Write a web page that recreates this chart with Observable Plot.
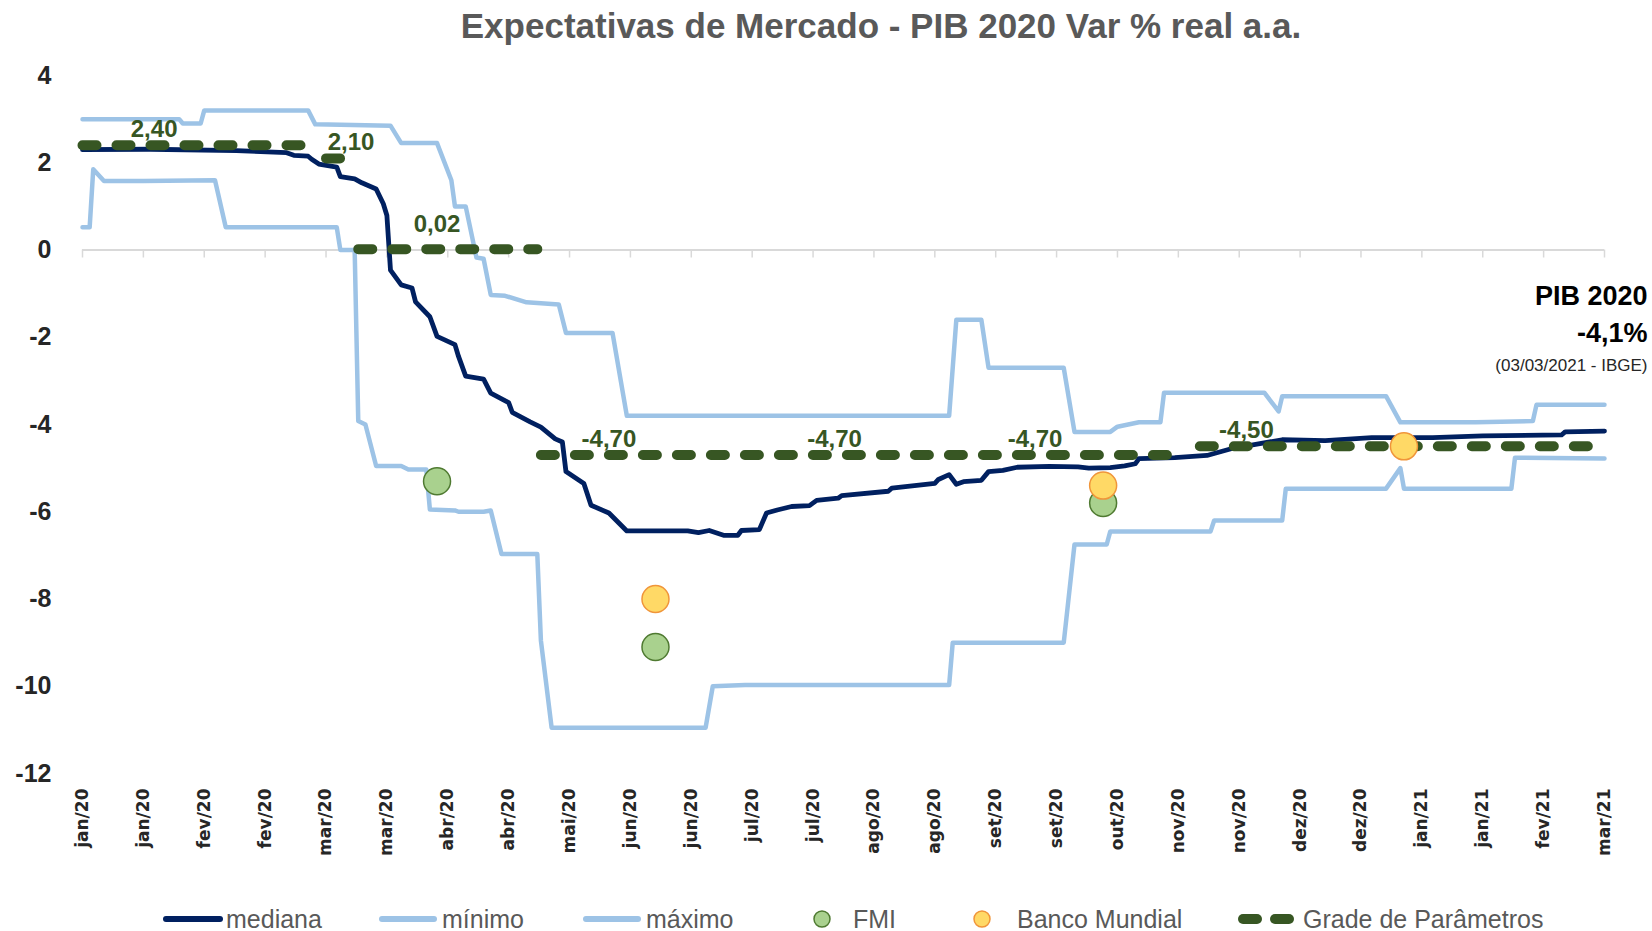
<!DOCTYPE html>
<html><head><meta charset="utf-8">
<script src="https://cdn.jsdelivr.net/npm/d3@7"></script>
<script src="https://cdn.jsdelivr.net/npm/@observablehq/plot@0.6"></script>
<style>
html,body{margin:0;padding:0;background:#fff;overflow:hidden;width:1652px;height:931px}
#title{height:50px;line-height:50px;padding-top:1px;box-sizing:border-box;padding-left:110px;text-align:center;font-family:"Liberation Sans",Arial,sans-serif;font-weight:bold;font-size:35px;color:#595959;white-space:nowrap}
#chart svg{display:block}
#legend{position:relative;height:36px;font-family:"Liberation Sans",Arial,sans-serif;font-size:25px;color:#595959}
#legend .it{position:absolute;top:24px;transform:translateY(-50%);white-space:nowrap;line-height:1}
#legend svg{position:absolute;top:0;left:0}
</style>
</head><body>
<div id="title">Expectativas de Mercado - PIB 2020 Var % real a.a.</div>
<div id="chart"></div>
<div id="legend"></div>
<script>
// ---------- data ----------
const mediana = [
 ["2020-01-01",2.30],["2020-01-20",2.31],["2020-02-13",2.28],["2020-02-27",2.23],["2020-02-29",2.17],
 ["2020-03-04",2.15],["2020-03-05",2.08],["2020-03-07",1.97],["2020-03-12",1.90],["2020-03-13",1.68],
 ["2020-03-17",1.63],["2020-03-19",1.54],["2020-03-23",1.40],["2020-03-25",1.06],["2020-03-26",0.79],
 ["2020-03-27",-0.46],["2020-03-30",-0.80],["2020-04-02",-0.87],["2020-04-03",-1.19],["2020-04-07",-1.53],
 ["2020-04-09",-1.98],["2020-04-14",-2.17],["2020-04-15",-2.44],["2020-04-17",-2.89],["2020-04-22",-2.96],
 ["2020-04-24",-3.28],["2020-04-29",-3.50],["2020-04-30",-3.72],["2020-05-05",-3.94],["2020-05-08",-4.06],
 ["2020-05-12",-4.33],["2020-05-14",-4.40],["2020-05-15",-5.08],["2020-05-20",-5.35],["2020-05-22",-5.85],
 ["2020-05-27",-6.03],["2020-06-01",-6.44],["2020-06-10",-6.44],["2020-06-18",-6.44],["2020-06-21",-6.48],
 ["2020-06-24",-6.43],["2020-06-28",-6.54],["2020-07-02",-6.54],["2020-07-03",-6.43],["2020-07-08",-6.41],
 ["2020-07-10",-6.03],["2020-07-13",-5.96],["2020-07-17",-5.88],["2020-07-22",-5.86],["2020-07-24",-5.74],
 ["2020-07-30",-5.69],["2020-07-31",-5.63],["2020-08-13",-5.53],["2020-08-14",-5.46],["2020-08-26",-5.35],
 ["2020-08-27",-5.26],["2020-08-30",-5.15],["2020-09-01",-5.37],["2020-09-03",-5.31],["2020-09-08",-5.28],
 ["2020-09-10",-5.08],["2020-09-14",-5.05],["2020-09-18",-4.98],["2020-09-27",-4.96],["2020-10-05",-4.97],
 ["2020-10-08",-5.00],["2020-10-14",-4.99],["2020-10-18",-4.95],["2020-10-21",-4.90],["2020-10-22",-4.78],
 ["2020-11-01",-4.76],["2020-11-10",-4.71],["2020-11-17",-4.55],["2020-12-01",-4.35],["2020-12-13",-4.37],
 ["2020-12-26",-4.30],["2021-01-12",-4.30],["2021-01-26",-4.26],["2021-02-17",-4.24],["2021-02-18",-4.17],
 ["2021-03-01",-4.15]
];
const minimo = [
 ["2020-01-01",0.52],["2020-01-03",0.52],["2020-01-04",1.85],["2020-01-07",1.58],["2020-01-18",1.58],
 ["2020-02-07",1.60],["2020-02-10",0.52],["2020-03-12",0.52],["2020-03-13",0.00],["2020-03-17",0.00],
 ["2020-03-18",-3.92],["2020-03-20",-4.00],["2020-03-23",-4.95],["2020-03-30",-4.95],["2020-04-01",-5.03],
 ["2020-04-06",-5.03],["2020-04-07",-5.95],["2020-04-14",-5.97],["2020-04-15",-6.00],["2020-04-22",-6.00],
 ["2020-04-24",-5.97],["2020-04-27",-6.97],["2020-05-07",-6.97],["2020-05-08",-8.95],["2020-05-11",-10.95],
 ["2020-06-23",-10.95],["2020-06-25",-10.00],["2020-07-04",-9.97],["2020-08-30",-9.97],["2020-08-31",-9.00],
 ["2020-10-01",-9.00],["2020-10-04",-6.75],["2020-10-13",-6.75],["2020-10-14",-6.45],["2020-11-11",-6.45],
 ["2020-11-12",-6.20],["2020-12-01",-6.20],["2020-12-02",-5.47],["2020-12-30",-5.47],["2021-01-03",-5.00],
 ["2021-01-04",-5.47],["2021-02-03",-5.47],["2021-02-04",-4.76],["2021-03-01",-4.78]
];
const maximo = [
 ["2020-01-01",3.00],["2020-01-28",3.00],["2020-01-29",2.90],["2020-02-03",2.90],["2020-02-04",3.20],
 ["2020-03-04",3.20],["2020-03-06",2.88],["2020-03-27",2.85],["2020-03-30",2.45],["2020-04-09",2.45],
 ["2020-04-13",1.60],["2020-04-14",1.00],["2020-04-17",1.00],["2020-04-20",-0.17],["2020-04-22",-0.20],
 ["2020-04-24",-1.03],["2020-04-28",-1.05],["2020-05-04",-1.20],["2020-05-13",-1.25],["2020-05-15",-1.90],
 ["2020-05-28",-1.90],["2020-06-01",-3.80],["2020-08-30",-3.80],["2020-09-01",-1.60],["2020-09-08",-1.60],
 ["2020-09-10",-2.70],["2020-10-01",-2.70],["2020-10-04",-4.17],["2020-10-14",-4.17],["2020-10-16",-4.05],
 ["2020-10-22",-3.95],["2020-10-28",-3.95],["2020-10-29",-3.27],["2020-11-26",-3.27],["2020-11-30",-3.70],
 ["2020-12-01",-3.35],["2020-12-30",-3.35],["2021-01-03",-3.95],["2021-01-24",-3.95],["2021-02-09",-3.92],
 ["2021-02-10",-3.55],["2021-03-01",-3.55]
];
const fmiDatas = ["2020-04-09","2020-06-09","2020-10-12"];
const fmiValores = [-5.3, -9.1, -5.8];
const bmDatas = ["2020-06-09","2020-10-12","2021-01-04"];
const bmValores = [-8.0, -5.4, -4.5];
const gradeInicio = ["2020-01-01","2020-03-09","2020-03-18","2020-05-08","2020-11-08"];
const gradeFim = ["2020-03-04","2020-03-15","2020-05-07","2020-11-02","2021-03-01"];
const gradeValores = [2.40, 2.10, 0.02, -4.70, -4.50];
const rotuloTextos = ["2,40","2,10","0,02","-4,70","-4,70","-4,70","-4,50"];
const rotuloDatas = ["2020-01-21","2020-03-16","2020-04-09","2020-05-27","2020-07-29","2020-09-23","2020-11-21"];
const rotuloValores = [2.40, 2.10, 0.02, -4.70, -4.70, -4.70, -4.50];
const xTickLabels = ["jan/20","jan/20","fev/20","fev/20","mar/20","mar/20","abr/20","abr/20","mai/20","jun/20","jun/20","jul/20","jul/20","ago/20","ago/20","set/20","set/20","out/20","nov/20","nov/20","dez/20","dez/20","jan/21","jan/21","fev/21","mar/21"];
const yTicks = [4, 2, 0, -2, -4, -6, -8, -10, -12];
const anotacao = ["PIB 2020", "-4,1%", "(03/03/2021 - IBGE)"];

// ---------- build ----------
const parse = s => new Date(s + "T00:00:00Z");
const rows = pts => pts.map(([d, v]) => ({date: parse(d), value: v}));
const xStart = parse("2020-01-01"), xEnd = parse("2021-03-01");
const xTicks = xTickLabels.map((_, i) => d3.utcDay.offset(xStart, 17 * i));
const tickLabelMap = new Map(xTicks.map((d, i) => [+d, xTickLabels[i]]));
const gradeRows = gradeValores.flatMap((v, i) => [
  {date: parse(gradeInicio[i]), value: v, seg: i},
  {date: parse(gradeFim[i]), value: v, seg: i}
]);
const rotulos = rotuloTextos.map((t, i) => ({date: parse(rotuloDatas[i]), value: rotuloValores[i], text: t}));
const rotulosZero = rotulos.filter(d => d.value === 0.02);
const rotulosOutros = rotulos.filter(d => d.value !== 0.02);
const fmi = fmiDatas.map((d, i) => ({date: parse(d), value: fmiValores[i]}));
const bm = bmDatas.map((d, i) => ({date: parse(d), value: bmValores[i]}));

const LS = "Liberation Sans";
const navy = "#002060", blue = "#9DC3E6", green = "#375623";
const labelStyle = {x: "date", y: "value", text: "text", fill: green, fontSize: 24, fontWeight: "bold", fontFamily: LS};

const chart = Plot.plot({
  width: 1652, height: 845,
  marginLeft: 82, marginRight: 48, marginTop: 25, marginBottom: 122,
  x: {type: "utc", domain: [xStart, xEnd]},
  y: {domain: [-12, 4]},
  style: {background: "#fff", overflow: "visible"},
  marks: [
    Plot.ruleY([0], {stroke: "#D9D9D9", strokeWidth: 2}),
    Plot.ruleX(xTicks, {x: d => d, y1: 0, y2: 0, insetBottom: -8, stroke: "#D9D9D9", strokeWidth: 1.5}),
    Plot.axisY({ticks: yTicks, tickFormat: d => String(d), tickSize: 0, tickPadding: 31,
      fontSize: 25, fontWeight: "bold", fontFamily: LS, color: "#262626", label: null}),
    Plot.axisX({ticks: xTicks, tickFormat: d => tickLabelMap.get(+d), tickRotate: -90, tickSize: 0, tickPadding: 15,
      fontSize: 17, fontWeight: "bold", fontFamily: "DejaVu Sans", color: "#262626", label: null}),
    Plot.line(rows(minimo), {x: "date", y: "value", stroke: blue, strokeWidth: 4.5, strokeLinejoin: "round"}),
    Plot.line(rows(maximo), {x: "date", y: "value", stroke: blue, strokeWidth: 4.5, strokeLinejoin: "round"}),
    Plot.line(rows(mediana), {x: "date", y: "value", stroke: navy, strokeWidth: 4.8, strokeLinejoin: "round"}),
    Plot.line(gradeRows, {x: "date", y: "value", z: "seg", stroke: green, strokeWidth: 10,
      strokeDasharray: "14 20", strokeLinecap: "round"}),
    Plot.text(rotulosOutros, {...labelStyle, dy: -16}),
    Plot.text(rotulosZero, {...labelStyle, dy: -25}),
    Plot.dot(fmi, {x: "date", y: "value", r: 13.5, fill: "#A9D18E", stroke: "#4F7A31", strokeWidth: 1.5}),
    Plot.dot(bm, {x: "date", y: "value", r: 13.5, fill: "#FFD966", stroke: "#F0953A", strokeWidth: 1.5}),
    Plot.text([anotacao[0]], {text: d => d, frameAnchor: "top-right", dx: 43, dy: 221, textAnchor: "end",
      lineAnchor: "middle", fontSize: 27, fontWeight: "bold", fontFamily: LS, fill: "#000"}),
    Plot.text([anotacao[1]], {text: d => d, frameAnchor: "top-right", dx: 43, dy: 258, textAnchor: "end",
      lineAnchor: "middle", fontSize: 27, fontWeight: "bold", fontFamily: LS, fill: "#000"}),
    Plot.text([anotacao[2]], {text: d => d, frameAnchor: "top-right", dx: 43, dy: 290, textAnchor: "end",
      lineAnchor: "middle", fontSize: 17, fontFamily: LS, fill: "#262626"})
  ]
});
document.getElementById("chart").appendChild(chart);

// ---------- legend ----------
const legend = document.getElementById("legend");
const ns = "http://www.w3.org/2000/svg";
const lsvg = document.createElementNS(ns, "svg");
lsvg.setAttribute("width", 1652); lsvg.setAttribute("height", 36);
function el(tag, attrs) { const e = document.createElementNS(ns, tag); for (const k in attrs) e.setAttribute(k, attrs[k]); lsvg.appendChild(e); }
el("line", {x1: 166, x2: 220, y1: 24, y2: 24, stroke: navy, "stroke-width": 6, "stroke-linecap": "round"});
el("line", {x1: 382, x2: 434, y1: 24, y2: 24, stroke: blue, "stroke-width": 6, "stroke-linecap": "round"});
el("line", {x1: 586, x2: 638, y1: 24, y2: 24, stroke: blue, "stroke-width": 6, "stroke-linecap": "round"});
el("circle", {cx: 822, cy: 24, r: 8, fill: "#A9D18E", stroke: "#4F7A31", "stroke-width": 1.5});
el("circle", {cx: 982, cy: 24, r: 8, fill: "#FFD966", stroke: "#F0953A", "stroke-width": 1.5});
el("line", {x1: 1243, x2: 1257, y1: 24, y2: 24, stroke: green, "stroke-width": 10, "stroke-linecap": "round"});
el("line", {x1: 1275, x2: 1289, y1: 24, y2: 24, stroke: green, "stroke-width": 10, "stroke-linecap": "round"});
legend.appendChild(lsvg);
[["mediana", 226], ["mínimo", 442], ["máximo", 646], ["FMI", 853], ["Banco Mundial", 1017], ["Grade de Parâmetros", 1303]]
  .forEach(([t, x]) => { const s = document.createElement("span"); s.className = "it"; s.style.left = x + "px"; s.textContent = t; legend.appendChild(s); });
</script>
</body></html>
